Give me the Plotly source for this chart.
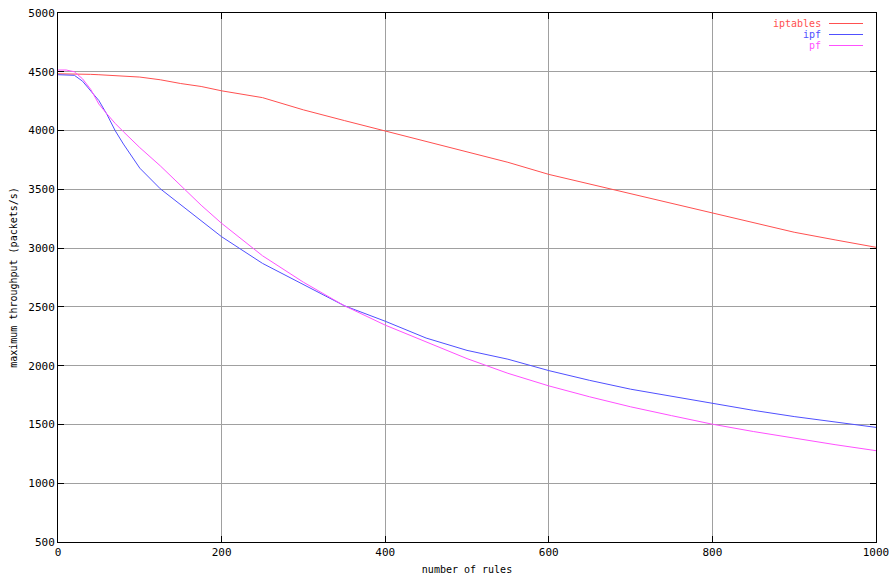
import plotly.graph_objects as go

rules = [0, 10, 20, 30, 40, 50, 60, 70, 80, 90, 100, 125, 150, 175, 200, 250, 300,
         350, 400, 450, 500, 550, 600, 650, 700, 750, 800, 850, 900, 950, 1000]

iptables = [4483, 4483, 4482, 4480, 4478, 4475, 4472, 4468, 4465, 4460, 4455, 4432,
            4400, 4375, 4338, 4280, 4176, 4085, 3997, 3910, 3820, 3730, 3627, 3545,
            3460, 3380, 3296, 3215, 3135, 3070, 3007]

ipf = [4475, 4475, 4470, 4420, 4340, 4255, 4135, 3998, 3885, 3780, 3680, 3505,
       3370, 3240, 3097, 2870, 2690, 2510, 2378, 2235, 2130, 2055, 1958, 1875,
       1800, 1740, 1678, 1620, 1567, 1520, 1475]

pf = [4515, 4515, 4500, 4440, 4350, 4225, 4140, 4060, 3990, 3922, 3855, 3700,
      3530, 3365, 3211, 2935, 2710, 2510, 2345, 2200, 2060, 1935, 1828, 1735,
      1650, 1575, 1502, 1440, 1382, 1328, 1277]

names = ["iptables", "ipf", "pf"]
colors = ["#ff5050", "#5050ff", "#ff50ff"]
series = [iptables, ipf, pf]

x_ticks = [0, 200, 400, 600, 800, 1000]
y_ticks = [500, 1000, 1500, 2000, 2500, 3000, 3500, 4000, 4500, 5000]

FONT = "DejaVu Sans Mono"

fig = go.Figure()
for name, col, ys in zip(names, colors, series):
    fig.add_trace(go.Scatter(x=rules, y=ys, mode="lines", name=name,
                             line=dict(color=col, width=1), showlegend=False))

# gnuplot-style key: right-aligned label then a line sample
L, R, T, B = 58, 876, 13, 542
W, H = R - L, B - T
key_rows = [23.5, 34.5, 45.5]
for name, col, py in zip(names, colors, key_rows):
    yy = (B - py) / H
    fig.add_annotation(x=(822 - L) / W, y=yy, xref="paper", yref="paper",
                       text=name, showarrow=False, xanchor="right", yanchor="middle",
                       borderpad=0, font=dict(family=FONT, size=10, color=col))
    fig.add_shape(type="line", xref="paper", yref="paper",
                  x0=(829 - L) / W, x1=(863 - L) / W, y0=yy, y1=yy,
                  line=dict(color=col, width=1))

axis_common = dict(
    showline=True, linecolor="black", linewidth=1, mirror="ticks",
    ticks="inside", ticklen=6, tickcolor="black", tickwidth=1,
    showgrid=True, gridcolor="#a0a0a0", gridwidth=1, zeroline=False,
    automargin=False,
    tickfont=dict(family=FONT, size=11, color="black"),
)

fig.update_layout(
    width=896, height=576,
    margin=dict(l=L, r=896 - R, t=T, b=576 - B, pad=0),
    paper_bgcolor="white", plot_bgcolor="white",
    font=dict(family=FONT, size=11, color="black"),
    xaxis=dict(range=[0, 1000], tickvals=x_ticks, ticktext=[str(v) for v in x_ticks],
               title=dict(text="number of rules", standoff=7,
                          font=dict(family=FONT, size=10)),
               **axis_common),
    yaxis=dict(range=[500, 5000], tickvals=y_ticks, ticktext=[str(v) for v in y_ticks],
               title=dict(text="maximum throughput (packets/s)", standoff=8,
                          font=dict(family=FONT, size=10)),
               **axis_common),
)

fig.write_html("out.html", config={"displayModeBar": False},
               post_script="document.body.style.margin='0';document.body.style.overflow='hidden';")
